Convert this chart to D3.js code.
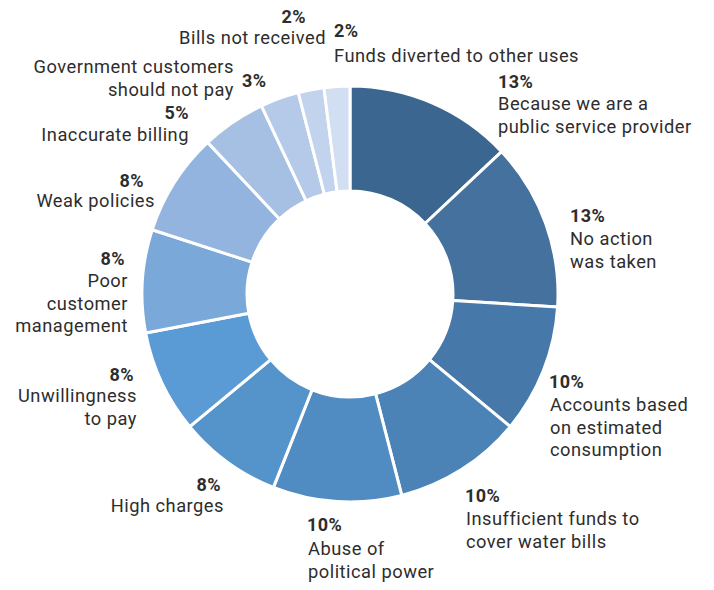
<!DOCTYPE html>
<html>
<head>
<meta charset="utf-8">
<script src="https://cdn.jsdelivr.net/npm/d3@7"></script>
<style>
  body { margin: 0; background: #fff; }
  svg text { font-family: Roboto, "DejaVu Sans", sans-serif; fill: #2e2d2d; }
  .pct { font-weight: bold; font-size: 18px; letter-spacing: 0.4px; }
  .lbl { font-size: 18.3px; letter-spacing: 0.5px; }
</style>
</head>
<body>
<div id="chart"></div>
<script>
// reasons, clockwise from 12 o'clock
var reasons = [
  ["Because we are a", "public service provider"],
  ["No action", "was taken"],
  ["Accounts based", "on estimated", "consumption"],
  ["Insufficient funds to", "cover water bills"],
  ["Abuse of", "political power"],
  ["High charges"],
  ["Unwillingness", "to pay"],
  ["Poor", "customer", "management"],
  ["Weak policies"],
  ["Inaccurate billing"],
  ["Government customers", "should not pay"],
  ["Bills not received"],
  ["Funds diverted to other uses"]
];
var shares = [13, 13, 10, 10, 10, 8, 8, 8, 8, 5, 3, 2, 2];

var colors = ["#3b6690", "#44719d", "#4679aa", "#4b83b6", "#508bc2", "#5593cb",
              "#5a9bd6", "#79a8d9", "#93b4df", "#a5c0e3", "#b4cae8", "#c2d3ed", "#d2def1"];

// where each label block goes: [pctX, pctY, pctAnchor, textX, textY, textAnchor]
var labelPos = [
  [498, 88, "start", 498, 110, "start"],
  [570, 222, "start", 570, 245, "start"],
  [549, 388, "start", 550, 411, "start"],
  [465, 502, "start", 466, 525, "start"],
  [307, 531, "start", 308, 555, "start"],
  [221, 491, "end", 224, 512, "end"],
  [134, 381, "end", 137, 402, "end"],
  [125, 265, "end", 128, 287, "end"],
  [144, 187, "end", 155, 207, "end"],
  [189, 119, "end", 189, 141, "end"],
  [242, 87, "start", 234, 73, "end"],
  [306, 23, "end", 326, 44, "end"],
  [334, 37, "start", 334, 62, "start"]
];

var width = 714, height = 590;
var cx = 350, cy = 294, outerR = 208, innerR = 103;

var svg = d3.select("#chart").append("svg")
    .attr("width", width)
    .attr("height", height);

var pie = d3.pie().sort(null).value(function(d) { return d; });
var arc = d3.arc().innerRadius(innerR).outerRadius(outerR);

var g = svg.append("g").attr("transform", "translate(" + cx + "," + cy + ")");

g.selectAll("path")
    .data(pie(shares))
  .enter().append("path")
    .attr("d", arc)
    .attr("fill", function(d, i) { return colors[i]; })
    .attr("stroke", "#fff")
    .attr("stroke-width", 3)
    .attr("stroke-linejoin", "bevel");

var labels = svg.selectAll(".label")
    .data(reasons)
  .enter().append("g")
    .attr("class", "label");

labels.append("text")
    .attr("class", "pct")
    .attr("x", function(d, i) { return labelPos[i][0]; })
    .attr("y", function(d, i) { return labelPos[i][1]; })
    .attr("text-anchor", function(d, i) { return labelPos[i][2]; })
    .text(function(d, i) { return shares[i] + "%"; });

labels.each(function(lines, i) {
  var t = d3.select(this).append("text")
      .attr("class", "lbl")
      .attr("text-anchor", labelPos[i][5]);
  lines.forEach(function(line, j) {
    t.append("tspan")
        .attr("x", labelPos[i][3])
        .attr("y", labelPos[i][4] + j * 22.5)
        .text(line);
  });
});
</script>
</body>
</html>
